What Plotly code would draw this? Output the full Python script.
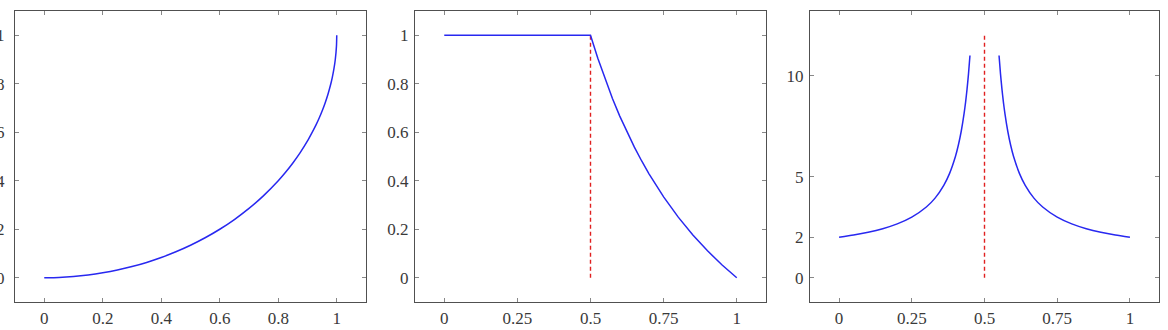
import plotly.graph_objects as go

# ---- data ----
left_x = [0, 0.05, 0.1, 0.15, 0.2, 0.25, 0.3, 0.35, 0.4, 0.45, 0.5, 0.55, 0.6, 0.65,
          0.7, 0.75, 0.8, 0.825, 0.85, 0.875, 0.9, 0.915, 0.93, 0.94, 0.95, 0.96, 0.97,
          0.98, 0.985, 0.99, 0.995, 0.999, 1.0]
left_y = [0, 0.00125, 0.00501, 0.01131, 0.0202, 0.03175, 0.04606, 0.06325, 0.08348,
          0.10697, 0.13397, 0.16484, 0.2, 0.24007, 0.28586, 0.33856, 0.4, 0.43484,
          0.47322, 0.51588, 0.56411, 0.59729, 0.63244, 0.65883, 0.68775, 0.72, 0.7569,
          0.801, 0.82737, 0.85893, 0.90013, 0.95529, 1.0]

mid_x = [0, 0.5, 0.525, 0.55, 0.575, 0.6, 0.625, 0.65, 0.675, 0.7, 0.75, 0.8, 0.85,
         0.9, 0.95, 1.0]
mid_y = [1, 1, 0.90476, 0.81818, 0.73913, 0.66667, 0.6, 0.53846, 0.48148, 0.42857,
         0.33333, 0.25, 0.17647, 0.11111, 0.05263, 0]
mid_cut_x = [0.5, 0.5]
mid_cut_y = [0, 1]

right_lx = [0, 0.05, 0.1, 0.15, 0.2, 0.25, 0.3, 0.33, 0.36, 0.38, 0.4, 0.41, 0.42,
            0.43, 0.435, 0.44, 0.445, 0.45]
right_ly = [2, 2.11111, 2.25, 2.42857, 2.66667, 3, 3.5, 3.94118, 4.57143, 5.16667, 6,
            6.55556, 7.25, 8.14286, 8.69231, 9.33333, 10.09091, 11]
right_rx = [0.55, 0.555, 0.56, 0.565, 0.57, 0.58, 0.59, 0.6, 0.62, 0.64, 0.67, 0.7,
            0.75, 0.8, 0.85, 0.9, 0.95, 1.0]
right_ry = [11, 10.09091, 9.33333, 8.69231, 8.14286, 7.25, 6.55556, 6, 5.16667, 4.57143,
            3.94118, 3.5, 3, 2.66667, 2.42857, 2.25, 2.11111, 2]
right_cut_x = [0.5, 0.5]
right_cut_y = [0, 12]

left_xticks = [0, 0.2, 0.4, 0.6, 0.8, 1]
left_xlabels = ["0", "0.2", "0.4", "0.6", "0.8", "1"]
left_yticks = [0, 0.2, 0.4, 0.6, 0.8, 1]
left_ylabels = ["0", "0.2", "0.4", "0.6", "0.8", "1"]
q_xticks = [0, 0.25, 0.5, 0.75, 1]
q_xlabels = ["0", "0.25", "0.5", "0.75", "1"]
right_yticks = [0, 2, 5, 10]
right_ylabels = ["0", "2", "5", "10"]

BLUE = "#2828f0"
RED = "#e02020"

fig = go.Figure()
fig.add_trace(go.Scatter(x=left_x, y=left_y, mode="lines",
                         line=dict(color=BLUE, width=1.5, shape="spline", smoothing=0.6),
                         xaxis="x", yaxis="y"))
fig.add_trace(go.Scatter(x=mid_cut_x, y=mid_cut_y, mode="lines",
                         line=dict(color=RED, width=1.4, dash="4px,3px"), xaxis="x2", yaxis="y2"))
fig.add_trace(go.Scatter(x=mid_x, y=mid_y, mode="lines", line=dict(color=BLUE, width=1.5),
                         xaxis="x2", yaxis="y2"))
fig.add_trace(go.Scatter(x=right_cut_x, y=right_cut_y, mode="lines",
                         line=dict(color=RED, width=1.4, dash="4px,3px"), xaxis="x3", yaxis="y3"))
fig.add_trace(go.Scatter(x=right_lx, y=right_ly, mode="lines",
                         line=dict(color=BLUE, width=1.5, shape="spline", smoothing=0.6),
                         xaxis="x3", yaxis="y3"))
fig.add_trace(go.Scatter(x=right_rx, y=right_ry, mode="lines",
                         line=dict(color=BLUE, width=1.5, shape="spline", smoothing=0.6),
                         xaxis="x3", yaxis="y3"))

FONT = dict(family="Liberation Serif", size=17, color="#3a3a3a")
ydom = [1 - 302 / 330, 1 - 11 / 330]
W = 1168.0


def ax(domain, rng, tv, tt, anchor, standoff=0):
    d = dict(domain=domain, range=rng, tickvals=tv, ticktext=tt, anchor=anchor,
             showline=True, linecolor="#505050", linewidth=1.4, mirror="ticks",
             ticks="inside", ticklen=4, tickwidth=1, tickcolor="#888888",
             showgrid=False, zeroline=False, tickfont=FONT, automargin=False,
             fixedrange=True)
    if standoff:
        d["ticklabelstandoff"] = standoff
    return d


fig.update_layout(
    width=1168, height=330,
    margin=dict(l=0, r=0, t=0, b=0),
    paper_bgcolor="white", plot_bgcolor="white",
    showlegend=False,
    font=FONT,
    xaxis=ax([15 / W, 366 / W], [-0.1, 1.1], left_xticks, left_xlabels, "y"),
    yaxis=ax(ydom, [-0.1, 1.1], left_yticks, left_ylabels, "x", standoff=6),
    xaxis2=ax([415 / W, 766 / W], [-0.1, 1.1], q_xticks, q_xlabels, "y2"),
    yaxis2=ax(ydom, [-0.1, 1.1], left_yticks, left_ylabels, "x2", standoff=2),
    xaxis3=ax([810 / W, 1159 / W], [-0.1, 1.1], q_xticks, q_xlabels, "y3"),
    yaxis3=ax(ydom, [-1.2, 13.2], right_yticks, right_ylabels, "x3", standoff=2),
)

fig.write_html("out.html")
